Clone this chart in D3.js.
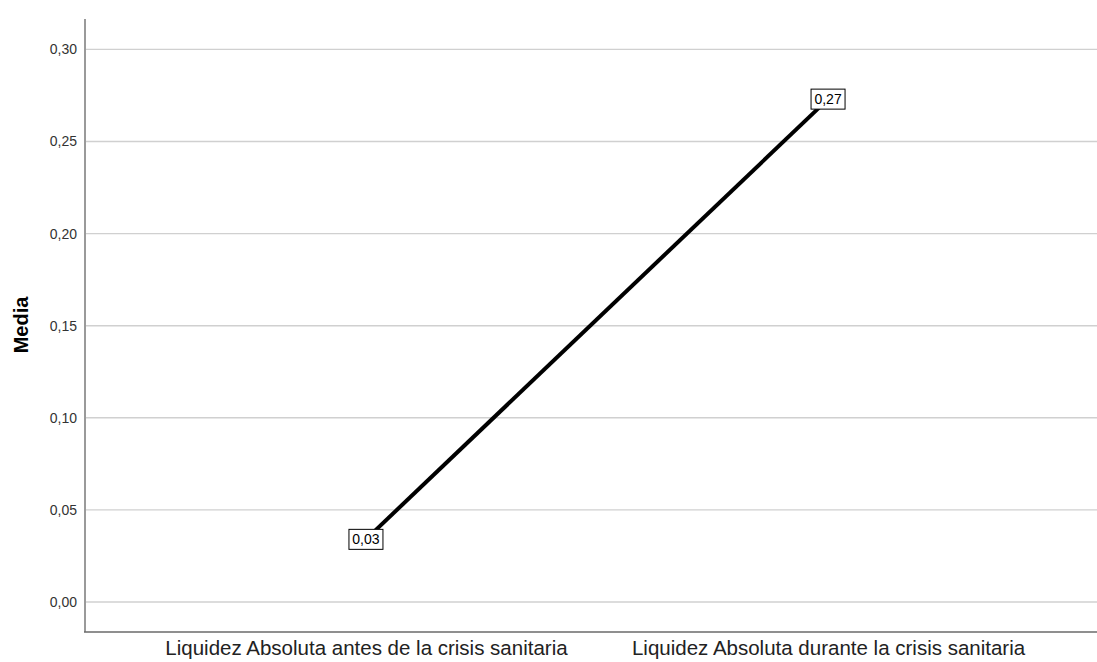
<!DOCTYPE html>
<html>
<head>
<meta charset="utf-8">
<script src="https://cdn.jsdelivr.net/npm/d3@7"></script>
<style>
  html, body { margin: 0; padding: 0; background: #fff; }
  svg { display: block; font-family: Arial, "Liberation Sans", sans-serif; }
</style>
</head>
<body>
<svg id="chart" width="1097" height="662"></svg>
<script>
const categories = ["Liquidez Absoluta antes de la crisis sanitaria", "Liquidez Absoluta durante la crisis sanitaria"];
const means = [0.034, 0.273];
const yTicks = [0.00, 0.05, 0.10, 0.15, 0.20, 0.25, 0.30];
const yTitle = "Media";

(function () {
const svg = d3.select("#chart");
const W = 1097, H = 662;
const mLeft = 85, mRight = 1109, mTop = 19, mBottom = 632;

const x = d3.scalePoint().domain(categories).range([mLeft, mRight]).padding(0.608);
const y = d3.scaleLinear().domain([-0.0163, 0.3165]).range([mBottom, mTop]);
const fmt = v => d3.format(".2f")(v).replace(".", ",");

// gridlines
svg.append("g").selectAll("line").data(yTicks).join("line")
  .attr("x1", mLeft).attr("x2", W)
  .attr("y1", d => y(d)).attr("y2", d => y(d))
  .attr("stroke", "#d0d0d0").attr("stroke-width", 1.4);

// y axis
const yAxis = d3.axisLeft(y).tickValues(yTicks).tickSize(0).tickPadding(8).tickFormat(fmt);
const gy = svg.append("g").attr("transform", `translate(${mLeft},0)`).call(yAxis);
gy.select(".domain").remove();
gy.selectAll("text").attr("font-size", 14).attr("fill", "#333").attr("font-family", "Arial, 'Liberation Sans', sans-serif");
svg.append("line").attr("x1", mLeft).attr("x2", mLeft).attr("y1", mTop).attr("y2", mBottom)
  .attr("stroke", "#9a9a9a").attr("stroke-width", 2);

// x axis
const xAxis = d3.axisBottom(x).tickSize(0).tickPadding(14);
const gx = svg.append("g").attr("transform", `translate(0,${mBottom})`).call(xAxis);
gx.select(".domain").remove();
gx.selectAll("text").attr("font-size", 20.5).attr("fill", "#222").attr("dy", "0.45em")
  .attr("font-family", "Arial, 'Liberation Sans', sans-serif");
svg.append("line").attr("x1", mLeft - 1).attr("x2", W).attr("y1", mBottom).attr("y2", mBottom)
  .attr("stroke", "#6a6a6a").attr("stroke-width", 1.6);

// y title
svg.append("text").attr("transform", `translate(28,325) rotate(-90)`)
  .attr("text-anchor", "middle").attr("font-size", 20).attr("font-weight", "bold")
  .attr("fill", "#000").text(yTitle);

// line
const pts = categories.map((c, i) => [x(c), y(means[i])]);
svg.append("path").datum(pts)
  .attr("d", d3.line())
  .attr("fill", "none").attr("stroke", "#000").attr("stroke-width", 4);

// labels
const lab = svg.append("g").selectAll("g").data(pts).join("g")
  .attr("transform", d => `translate(${d[0]},${d[1]})`);
lab.append("rect").attr("x", -17).attr("y", -10).attr("width", 34).attr("height", 20)
  .attr("fill", "#fff").attr("stroke", "#000").attr("stroke-width", 1);
lab.append("text").attr("text-anchor", "middle").attr("dy", "0.36em")
  .attr("font-size", 14).attr("fill", "#000")
  .text((d, i) => fmt(means[i]));
})();
</script>
</body>
</html>
